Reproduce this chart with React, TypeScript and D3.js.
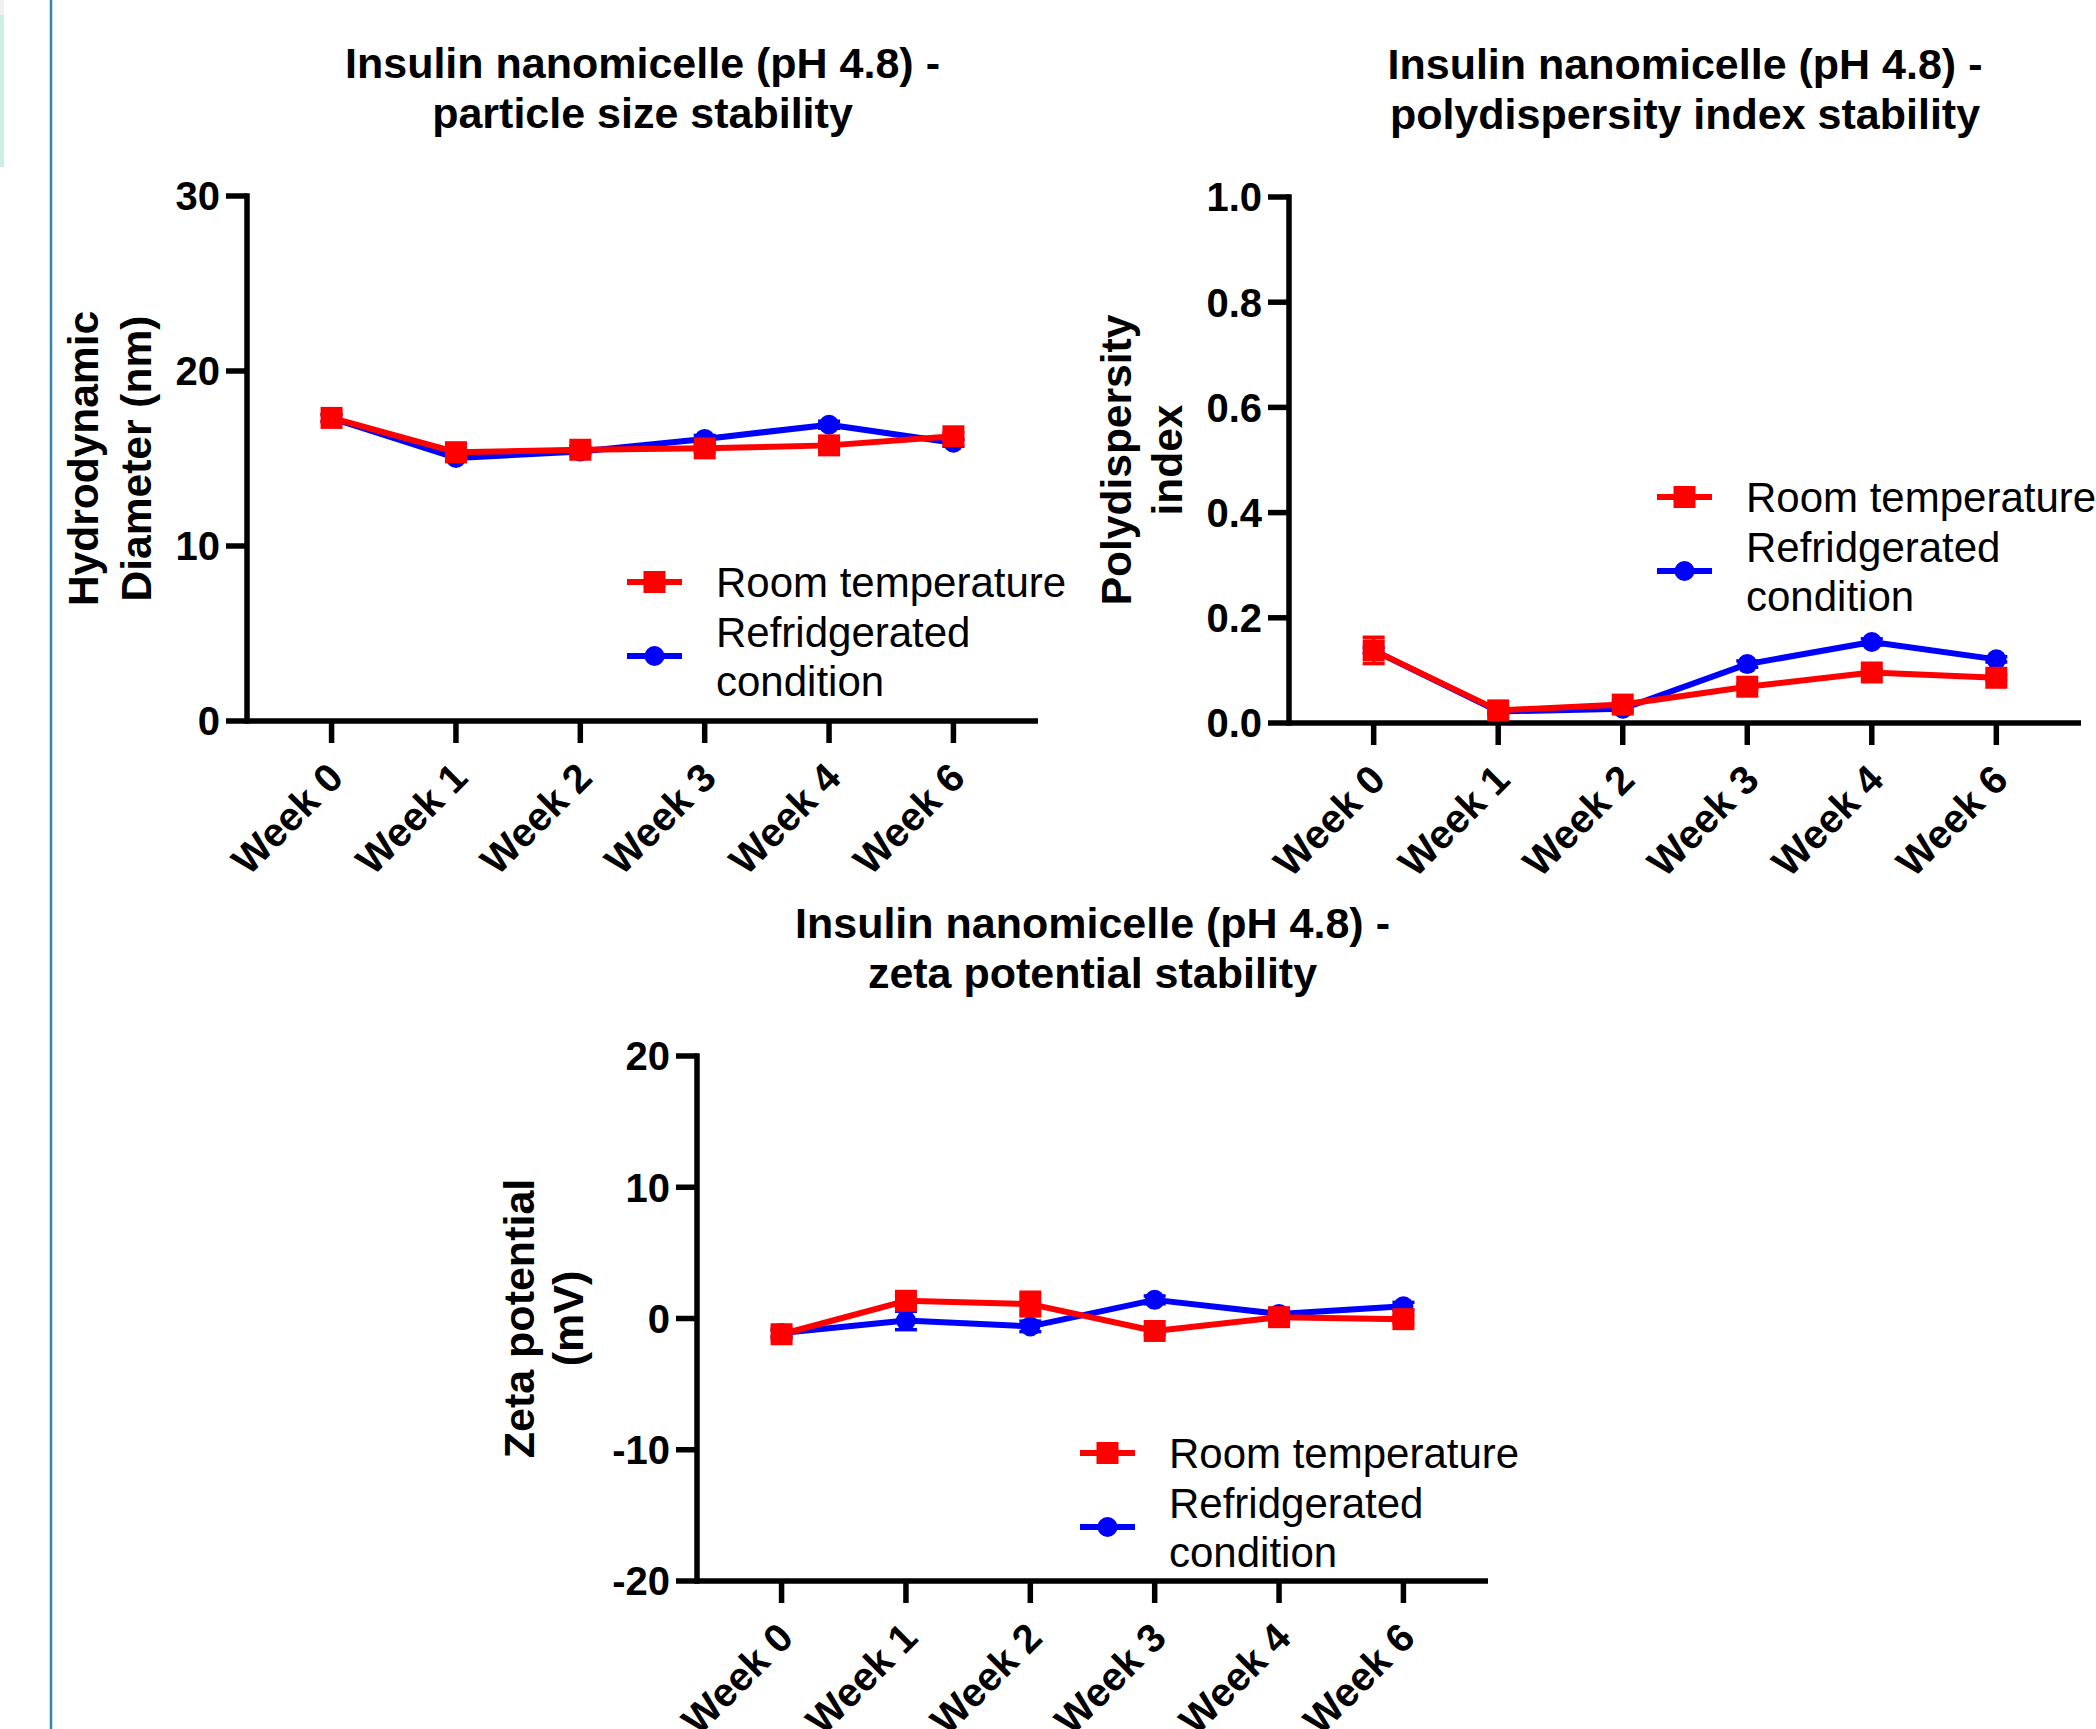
import React from "react";
import * as d3 from "d3";

const weeks = ["Week 0", "Week 1", "Week 2", "Week 3", "Week 4", "Week 6"];
const seriesNames = ["Room temperature", "Refridgerated condition"];

// Particle size (nm)
const sizeRoom = [17.32, 15.36, 15.5, 15.58, 15.75, 16.27];
const sizeFridge = [17.3, 15.03, 15.4, 16.12, 16.93, 15.9];
const sizeRoomErr = [0.2, 0.2, 0.2, 0.2, 0.2, 0.2];
const sizeFridgeErr = [0.2, 0.2, 0.2, 0.2, 0.2, 0.2];
const sizeTicks = [0, 10, 20, 30];

// Polydispersity index
const pdiRoom = [0.138, 0.024, 0.035, 0.069, 0.096, 0.086];
const pdiFridge = [0.138, 0.022, 0.027, 0.112, 0.154, 0.121];
const pdiRoomErr = [0.025, 0.005, 0.005, 0.005, 0.005, 0.005];
const pdiFridgeErr = [0.005, 0.005, 0.005, 0.006, 0.006, 0.005];
const pdiTicks = [0, 0.2, 0.4, 0.6, 0.8, 1.0];

// Zeta potential (mV)
const zetaRoom = [-1.2, 1.35, 1.1, -0.95, 0.1, -0.05];
const zetaFridge = [-1.1, -0.15, -0.6, 1.42, 0.35, 0.93];
const zetaRoomErr = [0.3, 0.4, 0.9, 0.3, 0.3, 0.3];
const zetaFridgeErr = [0.3, 0.7, 0.4, 0.3, 0.3, 0.3];
const zetaTicks = [-20, -10, 0, 10, 20];

const FONT = "'Liberation Sans', Arial, Helvetica, sans-serif";
const RED = "#ff0000";
const BLUE = "#0000ff";

type PanelProps = {
  left: number;
  top: number;
  width: number;
  height: number;
  domain: [number, number];
  ticks: number[];
  fmt: (v: number) => string;
  title: string[];
  ylabel: string[];
  ylabelX: number[];
  ylabelSize: number;
  room: number[];
  fridge: number[];
  roomErr: number[];
  fridgeErr: number[];
  legendX: number;
  legendY: number;
};

function Panel(p: PanelProps) {
  const x = d3.scalePoint<string>().domain(weeks).range([p.left, p.left + p.width]).padding(0.68);
  const y = d3.scaleLinear().domain(p.domain).range([p.top + p.height, p.top]);
  const bottom = p.top + p.height;
  const line = d3
    .line<number>()
    .x((_, i) => x(weeks[i]) as number)
    .y((v) => y(v));

  const errBars = (vals: number[], errs: number[], color: string) =>
    vals.map((v, i) => {
      const cx = x(weeks[i]) as number;
      const y1 = y(v + errs[i]);
      const y2 = y(v - errs[i]);
      return (
        <g key={i} stroke={color} strokeWidth={3.5}>
          <line x1={cx} x2={cx} y1={y1} y2={y2} />
          <line x1={cx - 11} x2={cx + 11} y1={y1} y2={y1} />
          <line x1={cx - 11} x2={cx + 11} y1={y2} y2={y2} />
        </g>
      );
    });

  const lx = p.left + p.legendX;
  const ly = p.top + p.legendY;
  const textX = lx + 89;

  return (
    <g fontFamily={FONT}>
      {p.title.map((t, i) => (
        <text
          key={i}
          x={p.left + p.width / 2}
          y={p.top - 133 + i * 50}
          dy="0.35em"
          textAnchor="middle"
          fontWeight="bold"
          fontSize={43}
          fill="#000"
        >
          {t}
        </text>
      ))}
      {p.ylabel.map((t, i) => (
        <text
          key={i}
          transform={`translate(${p.left + p.ylabelX[i]},${p.top + p.height / 2}) rotate(-90)`}
          dy="0.35em"
          textAnchor="middle"
          fontWeight="bold"
          fontSize={p.ylabelSize}
          fill="#000"
        >
          {t}
        </text>
      ))}
      <g stroke="#000" strokeWidth={5.5} fill="none">
        <line x1={p.left} x2={p.left} y1={p.top - 2.75} y2={bottom + 2.75} />
        <line x1={p.left} x2={p.left + p.width} y1={bottom} y2={bottom} />
        {p.ticks.map((t) => (
          <line key={t} x1={p.left - 21} x2={p.left} y1={y(t)} y2={y(t)} />
        ))}
        {weeks.map((w) => (
          <line key={w} x1={x(w)} x2={x(w)} y1={bottom} y2={bottom + 22} />
        ))}
      </g>
      {p.ticks.map((t) => (
        <text
          key={t}
          x={p.left - 27}
          y={y(t)}
          dy="0.36em"
          textAnchor="end"
          fontWeight="bold"
          fontSize={40}
          fill="#000"
        >
          {p.fmt(t)}
        </text>
      ))}
      {weeks.map((w) => (
        <text
          key={w}
          transform={`translate(${(x(w) as number) + 4},${bottom + 49}) rotate(-45)`}
          dy="0.35em"
          textAnchor="end"
          fontWeight="bold"
          fontSize={40}
          fill="#000"
        >
          {w}
        </text>
      ))}
      {errBars(p.fridge, p.fridgeErr, BLUE)}
      <path d={line(p.fridge) || ""} fill="none" stroke={BLUE} strokeWidth={6} strokeLinejoin="round" />
      {p.fridge.map((v, i) => (
        <circle key={i} cx={x(weeks[i])} cy={y(v)} r={10} fill={BLUE} />
      ))}
      {errBars(p.room, p.roomErr, RED)}
      <path d={line(p.room) || ""} fill="none" stroke={RED} strokeWidth={6} strokeLinejoin="round" />
      {p.room.map((v, i) => (
        <rect key={i} x={(x(weeks[i]) as number) - 11} y={y(v) - 11} width={22} height={22} fill={RED} />
      ))}
      <g>
        <line x1={lx} x2={lx + 55} y1={ly} y2={ly} stroke={RED} strokeWidth={6} />
        <rect x={lx + 16.5} y={ly - 11} width={22} height={22} fill={RED} />
        <text x={textX} y={ly} dy="0.35em" fontSize={42} fill="#000">
          {seriesNames[0]}
        </text>
        <line x1={lx} x2={lx + 55} y1={ly + 74} y2={ly + 74} stroke={BLUE} strokeWidth={6} />
        <circle cx={lx + 27.5} cy={ly + 74} r={10} fill={BLUE} />
        <text x={textX} y={ly + 50} dy="0.35em" fontSize={42} fill="#000">
          Refridgerated
        </text>
        <text x={textX} y={ly + 99} dy="0.35em" fontSize={42} fill="#000">
          condition
        </text>
      </g>
    </g>
  );
}

export default function App() {
  const W = 2096;
  const H = 1729;
  const f0 = (v: number) => String(v);
  const f1 = (v: number) => v.toFixed(1);
  return (
    <svg
      width={W}
      height={H}
      viewBox={`0 0 ${W} ${H}`}
      style={{ position: "absolute", left: 0, top: 0, background: "#fff" }}
    >
      <rect x={0} y={0} width={W} height={H} fill="#fff" />
      <rect x={0} y={0} width={4} height={15} fill="#eef1f0" />
      <rect x={0} y={15} width={4} height={152} fill="#cdeee4" />
      <line x1={51} x2={51} y1={0} y2={H} stroke="#2f8aa8" strokeWidth={2.5} />
      <Panel
        left={247}
        top={196}
        width={791}
        height={525}
        domain={[0, 30]}
        ticks={sizeTicks}
        fmt={f0}
        title={["Insulin nanomicelle (pH 4.8) -", "particle size stability"]}
        ylabel={["Hydrodynamic", "Diameter (nm)"]}
        ylabelX={[-164, -111]}
        ylabelSize={42.5}
        room={sizeRoom}
        fridge={sizeFridge}
        roomErr={sizeRoomErr}
        fridgeErr={sizeFridgeErr}
        legendX={380}
        legendY={386}
      />
      <Panel
        left={1289}
        top={197}
        width={792}
        height={526}
        domain={[0, 1]}
        ticks={pdiTicks}
        fmt={f1}
        title={["Insulin nanomicelle (pH 4.8) -", "polydispersity index stability"]}
        ylabel={["Polydispersity", "index"]}
        ylabelX={[-173, -122]}
        ylabelSize={42.5}
        room={pdiRoom}
        fridge={pdiFridge}
        roomErr={pdiRoomErr}
        fridgeErr={pdiFridgeErr}
        legendX={368}
        legendY={300}
      />
      <Panel
        left={697}
        top={1056}
        width={791}
        height={525}
        domain={[-20, 20]}
        ticks={zetaTicks}
        fmt={f0}
        title={["Insulin nanomicelle (pH 4.8) -", "zeta potential stability"]}
        ylabel={["Zeta potential", "(mV)"]}
        ylabelX={[-178, -129]}
        ylabelSize={43}
        room={zetaRoom}
        fridge={zetaFridge}
        roomErr={zetaRoomErr}
        fridgeErr={zetaFridgeErr}
        legendX={383}
        legendY={397}
      />
    </svg>
  );
}
